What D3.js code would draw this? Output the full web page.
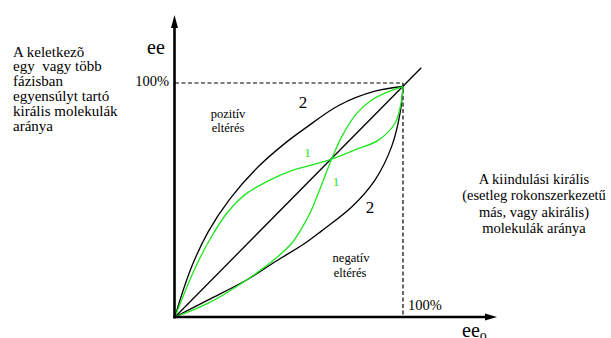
<!DOCTYPE html>
<html><head><meta charset="utf-8">
<script src="https://cdn.jsdelivr.net/npm/d3@7"></script>
<style>body{margin:0;background:#fff}svg{display:block}</style>
</head><body>
<svg id="c" width="611" height="338"></svg>
<script>
// data (x = ee0 %, y = ee %)
const upperBlack = [[0,0],[2.2,7.3],[7.3,21.5],[14.6,36.5],[24.1,50.5],[36.5,64.2],[48.2,74.2],[57,80.6],[72,90.5],[87.7,96.5],[100,98.5]];
const lowerBlack = [[0,0],[14.6,7.3],[31.4,15.8],[43.9,23.6],[57,31.5],[64.3,36.8],[77.6,47.1],[87.7,58.5],[95,72.8],[98.7,87],[100,98.5]];
const greenA = [[0,0],[3.2,8],[9.1,21.5],[16.1,34.5],[23.4,45.2],[30.7,52.3],[40.9,58.2],[51.2,62.6],[57,64.2],[68.7,67.5],[78.9,71.4],[89.2,75.6],[96.5,82.8],[99.4,92.7],[100,98.5]];
const greenB = [[0,0],[14.6,5.9],[31.4,15.8],[45.3,26],[51.2,31.5],[55.6,38],[59.5,45],[63.5,54.5],[68.7,67.5],[73.1,77],[79.7,87],[86.3,92.7],[93.6,96.3],[100,98.5]];
const diagonal = [[0,0],[108,106.5]];
const tickLabel = "100%";
const leftLines = ["A keletkezõ","egy  vagy több","fázisban","egyensúlyt tartó","királis molekulák","aránya"];
const rightLines = ["A kiindulási királis","(esetleg rokonszerkezetű","más, vagy akirális)","molekulák aránya"];

const FONT = "'Liberation Serif', 'Times New Roman', Times, 'DejaVu Serif', serif";
const svg = d3.select("#c");
const x = d3.scaleLinear().domain([0,100]).range([175,403]);
const y = d3.scaleLinear().domain([0,100]).range([317,83]);
const green = "#1ee61e";

// dashed guides
svg.append("line").attr("x1",x(0)).attr("x2",x(100)).attr("y1",y(100)).attr("y2",y(100))
  .attr("stroke","#000").attr("stroke-width",1.2).attr("stroke-dasharray","4,2.5");
svg.append("line").attr("x1",x(100)).attr("x2",x(100)).attr("y1",y(100)).attr("y2",y(0))
  .attr("stroke","#000").attr("stroke-width",1.2).attr("stroke-dasharray","4,2.5");

const line = d3.line().x(d=>x(d[0])).y(d=>y(d[1])).curve(d3.curveCatmullRom.alpha(0.5));
[[upperBlack,"#000"],[lowerBlack,"#000"],[diagonal,"#000"],[greenA,green],[greenB,green]].forEach(([d,c])=>{
  svg.append("path").datum(d).attr("d",line).attr("fill","none").attr("stroke",c).attr("stroke-width",1.3);
});

// axes
svg.append("line").attr("x1",x(0)-0.5).attr("x2",x(0)-0.5).attr("y1",y(0)+1.5).attr("y2",26).attr("stroke","#000").attr("stroke-width",2.6);
svg.append("path").attr("d",`M${x(0)-0.5},15 L${x(0)-4},28 L${x(0)+3},28 Z`).attr("fill","#000");
svg.append("line").attr("x1",x(0)-1.5).attr("x2",487).attr("y1",y(0)).attr("y2",y(0)).attr("stroke","#000").attr("stroke-width",2.6);
svg.append("path").attr("d",`M497,${y(0)} L485,${y(0)-3.5} L485,${y(0)+3.5} Z`).attr("fill","#000");

const ann = (tx,ty,s,txt,c="#000",a="middle")=>svg.append("text").attr("x",tx).attr("y",ty)
  .attr("font-family",FONT).attr("font-size",s).attr("fill",c).attr("text-anchor",a)
  .style("white-space","pre").text(txt);

// tick labels
ann(x(0)-6,y(100)+3,14.5,tickLabel,"#000","end");
ann(x(100)+5,310,14.5,tickLabel,"#000","start");
// axis names
ann(147,54,20,"ee","#000","start");
const t = ann(462,337,20,"ee","#000","start");
t.append("tspan").attr("font-size",14).attr("dy",3).text("o");

// annotations
ann(303,108,17,"2");
ann(370,213,17,"2");
ann(228,118,12.5,"pozitív");
ann(228,131.5,12.5,"eltérés");
ann(351,262,12.5,"negatív");
ann(350,276.5,12.5,"eltérés");
ann(307.5,157,13,"1",green);
ann(336,186,13,"1",green);

leftLines.forEach((s,i)=>ann(13,56.5+i*14.8,15,s,"#000","start"));
rightLines.forEach((s,i)=>ann(534,184+i*16.3,14.5,s));
</script>
</body></html>
